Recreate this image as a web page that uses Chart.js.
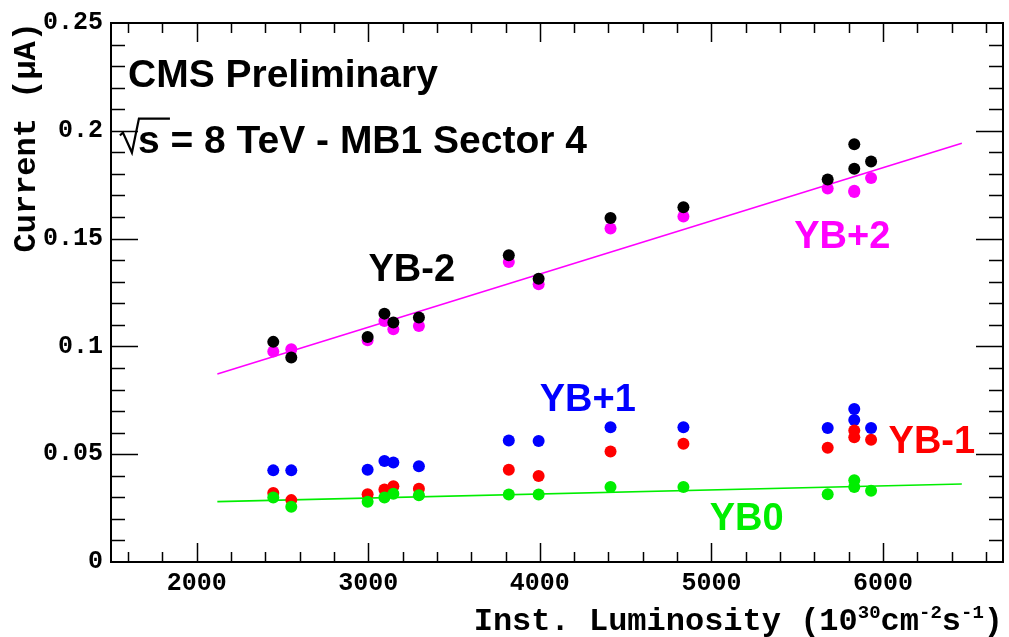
<!DOCTYPE html>
<html>
<head>
<meta charset="utf-8">
<script src="https://cdn.jsdelivr.net/npm/chart.js@4.4.1/dist/chart.umd.min.js"></script>
<style>
  html, body { margin: 0; padding: 0; background: #fff; }
  canvas { display: block; }
</style>
</head>
<body>
<canvas id="c" width="1009" height="637"></canvas>
<script>
"use strict";

// Luminosidad instantánea de cada run (10^30 cm^-2 s^-1)
const lumi = [2446, 2551, 2996, 3094, 3146, 3295, 3819, 3993, 4412, 4837, 5678, 5833, 5833, 5931];

// Corriente (µA) por rueda
const ybm2 = [0.1021, 0.0949, 0.1044, 0.1152, 0.1111, 0.1134, 0.1423, 0.1314, 0.1596, 0.1645, 0.1774, 0.1938, 0.1824, 0.1858];
const ybp2 = [0.0976, 0.0987, 0.1029, 0.1118, 0.1080, 0.1095, 0.1392, 0.1288, 0.1547, 0.1602, 0.1732, 0.1722, 0.1716, 0.1781];
const ybp1 = [0.0425, 0.0425, 0.0428, 0.0468, 0.0462, 0.0444, 0.0564, 0.0561, 0.0625, 0.0625, 0.0622, 0.0710, 0.0659, 0.0622];
const ybm1 = [0.0320, 0.0287, 0.0314, 0.0336, 0.0351, 0.0340, 0.0428, 0.0399, 0.0513, 0.0549, 0.0530, 0.0610, 0.0579, 0.0567];
const yb0  = [0.0299, 0.0256, 0.0279, 0.0299, 0.0317, 0.0310, 0.0313, 0.0313, 0.0348, 0.0348, 0.0314, 0.0379, 0.0348, 0.0330];

// Ajustes lineales (extremos del rango dibujado)
const fitX    = [2120, 6460];
const fitYBp2 = [0.0872, 0.1942];
const fitYB0  = [0.0280, 0.0362];

// Ejes
const xTicks = [2000, 3000, 4000, 5000, 6000];
const xTickLabels = ["2000", "3000", "4000", "5000", "6000"];
const yTicks = [0, 0.05, 0.1, 0.15, 0.2, 0.25];
const yTickLabels = ["0", "0.05", "0.1", "0.15", "0.2", "0.25"];

const X_MIN = 1500, X_MAX = 6700, Y_MIN = 0, Y_MAX = 0.25;

const MONO = "'Liberation Mono', 'Courier New', monospace";
const SANS = "'Liberation Sans', Arial, Helvetica, sans-serif";

const pts = (ys) => ys.map((y, i) => ({ x: lumi[i], y }));
const fit = (ys) => ys.map((y, i) => ({ x: fitX[i], y }));

function markers(label, ys, color) {
  return {
    type: "scatter", label, data: pts(ys),
    pointRadius: 6, pointBackgroundColor: color, pointBorderWidth: 0,
    pointStyle: "circle",
  };
}

function fitLine(label, ys, color) {
  return {
    type: "line", label, data: fit(ys),
    borderColor: color, borderWidth: 1.6, pointRadius: 0, fill: false,
  };
}

// Etiquetas dentro del marco, en coordenadas de datos
const notes = [
  { text: "CMS Preliminary", x: 1599, y: 0.2204, color: "#000" },
  { text: "YB-2", x: 3001, y: 0.1303, color: "#000" },
  { text: "YB+2", x: 5483, y: 0.1456, color: "#ff00ff" },
  { text: "YB+1", x: 3999, y: 0.0702, color: "#0000ff" },
  { text: "YB-1", x: 6033, y: 0.0504, color: "#ff0000" },
  { text: "YB0",  x: 4990, y: 0.0148, color: "#00ee00" },
];
const sqrtNote = { text: "s = 8 TeV - MB1 Sector 4", x: 1657, y: 0.1899 };

// Marco con ticks hacia dentro en los cuatro lados (estilo ROOT)
const frame = {
  id: "frame",
  afterDatasetsDraw(chart) {
    const { ctx, chartArea: a, scales } = chart;
    ctx.save();
    ctx.strokeStyle = "#000";
    ctx.lineWidth = 1.5;
    ctx.beginPath();
    for (let v = 1600; v <= X_MAX; v += 200) {
      const px = Math.round(scales.x.getPixelForValue(v)) + 0.5;
      const len = v % 1000 === 0 ? 19 : 10;
      ctx.moveTo(px, a.bottom); ctx.lineTo(px, a.bottom - len);
      ctx.moveTo(px, a.top); ctx.lineTo(px, a.top + len);
    }
    for (let k = 1; k < 25; k++) {
      const py = Math.round(scales.y.getPixelForValue(k / 100)) + 0.5;
      const len = k % 5 === 0 ? 27 : 14;
      ctx.moveTo(a.left, py); ctx.lineTo(a.left + len, py);
      ctx.moveTo(a.right, py); ctx.lineTo(a.right - len, py);
    }
    ctx.stroke();
    ctx.lineWidth = 2;
    ctx.strokeRect(a.left, a.top, a.right - a.left, a.bottom - a.top);
    ctx.restore();
  },
};

// Textos: etiquetas de ruedas, raíz de s y títulos de eje
const texts = {
  id: "texts",
  afterDraw(chart) {
    const { ctx, scales, chartArea: a } = chart;
    ctx.save();
    ctx.textBaseline = "alphabetic";
    ctx.textAlign = "left";
    for (const n of notes) {
      ctx.font = "bold " + (n.text.startsWith("CMS") ? 39 : 38) + "px " + SANS;
      ctx.fillStyle = n.color;
      ctx.fillText(n.text, scales.x.getPixelForValue(n.x), scales.y.getPixelForValue(n.y));
    }
    const tx = scales.x.getPixelForValue(sqrtNote.x);
    const ty = scales.y.getPixelForValue(sqrtNote.y);
    ctx.font = "bold 39px " + SANS;
    ctx.fillStyle = "#000";
    ctx.fillText(sqrtNote.text, tx, ty);
    ctx.strokeStyle = "#000";
    ctx.lineWidth = 2.2;
    ctx.beginPath();
    ctx.moveTo(tx - 18, ty - 17);
    ctx.lineTo(tx - 15, ty - 20);
    ctx.lineTo(tx - 6, ty);
    ctx.lineTo(tx + 1, ty - 34);
    ctx.lineTo(tx + 32, ty - 34);
    ctx.stroke();

    // Título eje X con superíndices, alineado a la derecha
    const parts = [
      ["Inst. Luminosity (10", false], ["30", true], ["cm", false],
      ["-2", true], ["s", false], ["-1", true], [")", false],
    ];
    const big = "bold 32px " + MONO, small = "bold 19px " + MONO;
    let w = 0;
    for (const [t, sup] of parts) { ctx.font = sup ? small : big; w += ctx.measureText(t).width; }
    let x = a.right - w;
    const base = 630;
    for (const [t, sup] of parts) {
      ctx.font = sup ? small : big;
      ctx.fillText(t, x, sup ? base - 12 : base);
      x += ctx.measureText(t).width;
    }

    // Título eje Y, girado y alineado arriba
    ctx.font = big;
    ctx.translate(35, a.top - 1);
    ctx.rotate(-Math.PI / 2);
    ctx.textAlign = "right";
    ctx.fillText("Current (\u03bcA)", 0, 0);
    ctx.restore();
  },
};

const tickFont = { family: MONO, size: 25, weight: "bold" };

new Chart(document.getElementById("c"), {
  data: {
    datasets: [
      markers("YB-2", ybm2, "#000000"),
      markers("YB0", yb0, "#00ee00"),
      markers("YB+2", ybp2, "#ff00ff"),
      markers("YB-1", ybm1, "#ff0000"),
      markers("YB+1", ybp1, "#0000ff"),
      fitLine("fit YB+2", fitYBp2, "#ff00ff"),
      fitLine("fit YB0", fitYB0, "#00ee00"),
    ],
  },
  options: {
    responsive: false,
    animation: false,
    events: [],
    layout: { padding: { top: 21, right: 3, left: 0, bottom: 0 } },
    plugins: { legend: { display: false }, tooltip: { enabled: false } },
    scales: {
      x: {
        type: "linear", min: X_MIN, max: X_MAX,
        grid: { display: false, drawTicks: false },
        border: { display: false },
        afterBuildTicks: (s) => { s.ticks = xTicks.map((v) => ({ value: v })); },
        afterFit: (s) => { s.height = 75; },
        ticks: {
          font: tickFont, color: "#000", padding: 7, maxRotation: 0, autoSkip: false,
          callback: (v, i) => xTickLabels[i],
        },
      },
      y: {
        type: "linear", min: Y_MIN, max: Y_MAX,
        grid: { display: false, drawTicks: false },
        border: { display: false },
        afterBuildTicks: (s) => { s.ticks = yTicks.map((v) => ({ value: v })); },
        afterFit: (s) => { s.width = 111; },
        ticks: {
          font: tickFont, color: "#000", padding: 8, autoSkip: false,
          callback: (v, i) => yTickLabels[i],
        },
      },
    },
  },
  plugins: [frame, texts],
});
</script>
</body>
</html>
